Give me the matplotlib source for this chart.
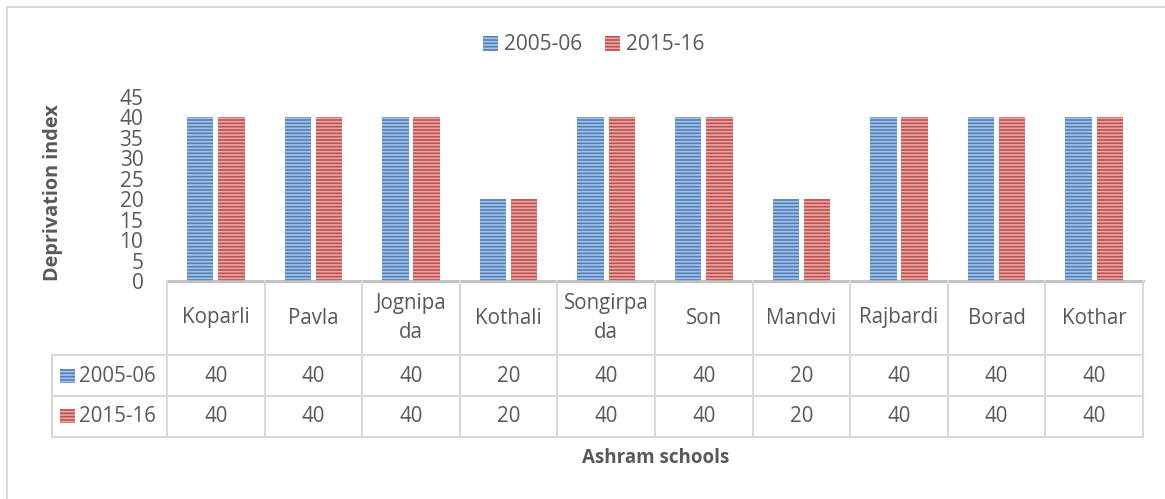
import matplotlib
matplotlib.use("Agg")
import matplotlib.pyplot as plt
from matplotlib.patches import Rectangle, Patch
from matplotlib.transforms import blended_transform_factory
import numpy as np

categories = ["Koparli", "Pavla", "Jognipada", "Kothali", "Songirpada",
              "Son", "Mandvi", "Rajbardi", "Borad", "Kothar"]
header_labels = ["Koparli", "Pavla", "Jognipa\nda", "Kothali", "Songirpa\nda",
                 "Son", "Mandvi", "Rajbardi", "Borad", "Kothar"]
series_names = ["2005-06", "2015-16"]
values_2005 = [40, 40, 40, 20, 40, 40, 20, 40, 40, 40]
values_2015 = [40, 40, 40, 20, 40, 40, 20, 40, 40, 40]
y_ticks = [0, 5, 10, 15, 20, 25, 30, 35, 40, 45]

plt.rcParams['font.family'] = ['Open Sans', 'DejaVu Sans']
plt.rcParams['hatch.linewidth'] = 1.2

W, H = 1165, 499
fig = plt.figure(figsize=(W / 100, H / 100), dpi=100)

def fx(px):
    return px / W

def fy(py):
    return 1 - py / H

TXT = '#595959'
GRID = '#D9D9D9'
BLUE = '#4F81BD'
BLUE_H = '#A8C2E4'
RED = '#C0504D'
RED_H = '#E6A9A7'

left_px, right_px, top_px, bot_px = 167, 1143, 97, 281
ax = fig.add_axes([fx(left_px), fy(bot_px), fx(right_px - left_px), (bot_px - top_px) / H])

x = np.arange(len(categories))
w = 0.27
off = 0.16
b1 = ax.bar(x - off, values_2005, w, color=BLUE, edgecolor=BLUE_H, hatch='-----', linewidth=0)
b2 = ax.bar(x + off, values_2015, w, color=RED, edgecolor=RED_H, hatch='-----', linewidth=0)

ax.set_xlim(-0.5, len(categories) - 0.5)
ax.set_ylim(0, 45)
ax.set_yticks(y_ticks)
ax.set_xticks([])
ax.tick_params(axis='y', length=0, pad=17, labelsize=15, labelcolor=TXT)
for s in ['top', 'right', 'left']:
    ax.spines[s].set_visible(False)
ax.spines['bottom'].set_color('#BFBFBF')
ax.spines['bottom'].set_linewidth(2)

ax.set_ylabel("Deprivation index", fontsize=14.3, fontweight='bold', color=TXT)
ax.yaxis.set_label_coords((63 - left_px) / (right_px - left_px), (281 - 193) / (281 - 97))

# table
tr = blended_transform_factory(ax.transData, fig.transFigure)
trf = fig.transFigure
row_y = [281, 355, 396, 437]
lw = 1.5
for py in row_y[1:]:
    fig.add_artist(plt.Line2D([fx(52), fx(right_px)], [fy(py), fy(py)], transform=trf, color=GRID, lw=lw))
for i in range(len(categories) + 1):
    fig.add_artist(plt.Line2D([i - 0.5, i - 0.5], [fy(281), fy(437)], transform=tr, color=GRID, lw=lw))
fig.add_artist(plt.Line2D([fx(52), fx(52)], [fy(355), fy(437)], transform=trf, color=GRID, lw=lw))

FS = 14.8
for i, lab in enumerate(header_labels):
    fig.text(i, fy(318), lab, transform=tr, ha='center', va='center', fontsize=FS,
             color=TXT, linespacing=1.55)
for i, (v1, v2) in enumerate(zip(values_2005, values_2015)):
    fig.text(i, fy(376), str(v1), transform=tr, ha='center', va='center', fontsize=FS, color=TXT)
    fig.text(i, fy(416), str(v2), transform=tr, ha='center', va='center', fontsize=FS, color=TXT)

for (name, c, hc, py) in [(series_names[0], BLUE, BLUE_H, 376), (series_names[1], RED, RED_H, 416)]:
    fig.add_artist(Rectangle((fx(60), fy(py + 7)), fx(15), 14 / H, transform=trf,
                             facecolor=c, edgecolor=hc, hatch='-----', linewidth=0))
    fig.text(fx(79), fy(py), name, transform=trf, ha='left', va='center', fontsize=FS, color=TXT)

fig.text(fx(656), fy(458), "Ashram schools", ha='center', va='center', fontsize=13.5,
         fontweight='bold', color=TXT)

# top legend
fig.legend([b1, b2], series_names, loc='center', bbox_to_anchor=(fx(594), fy(45)), ncol=2,
           frameon=False, fontsize=15, labelcolor=TXT, handlelength=0.7, handleheight=0.7,
           handletextpad=0.3, columnspacing=1.1)

# outer border
fig.add_artist(plt.Line2D([fx(7), fx(1165)], [fy(7), fy(7)], transform=trf, color=GRID, lw=1.5))
fig.add_artist(plt.Line2D([fx(7), fx(7)], [fy(7), fy(499)], transform=trf, color=GRID, lw=1.5))

fig.savefig("out.png", dpi=100)
